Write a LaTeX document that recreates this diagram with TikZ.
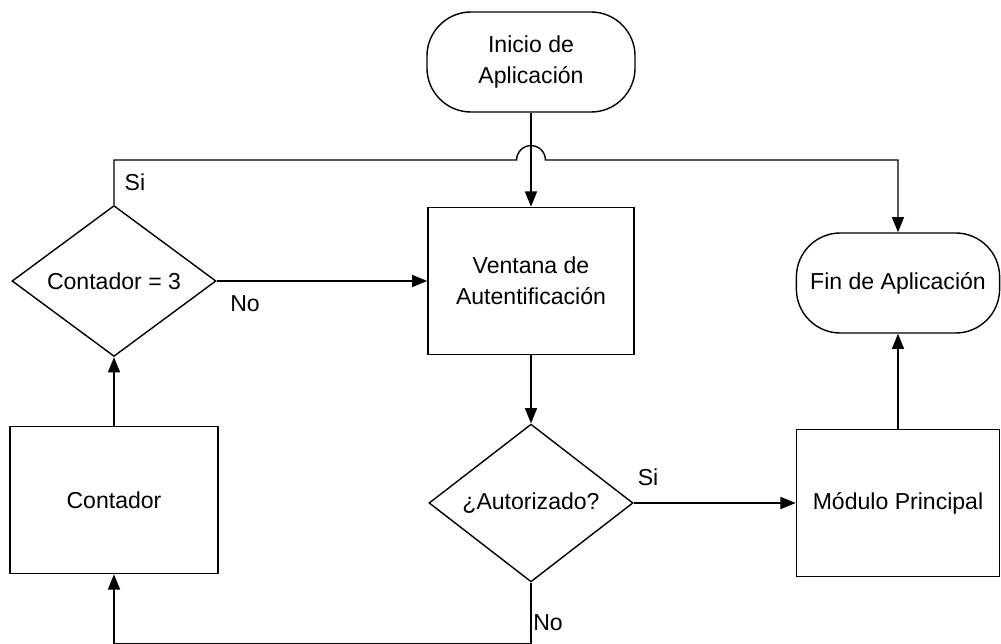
\documentclass[tikz,border=0pt]{standalone}
\usepackage{fontspec}
\setmainfont{Liberation Sans}
\usetikzlibrary{shapes.geometric,arrows.meta}

\begin{document}
\begin{tikzpicture}[>={Triangle[length=0.38cm,width=0.3cm]},x=0.025cm,y=-0.025cm,line width=1pt,
  font=\fontsize{16.4}{22}\selectfont,
  terminal/.style={draw,rounded corners=1.1cm,minimum width=5.2cm,minimum height=2.5cm,align=center,inner sep=0pt},
  caja/.style={draw,minimum width=5.15cm,minimum height=3.68cm,align=center,inner sep=0pt},
  decision/.style={draw,diamond,minimum width=5.1cm,minimum height=3.65cm,inner sep=0pt}]

\useasboundingbox (0,0) rectangle (1001,644);

\node[terminal] (inicio) at (531,62) {Inicio de\\Aplicación};
\node[caja] (ventana) at (531,281) {Ventana de\\Autentificación};
\node[decision] (cont3) at (114,281) {Contador = 3};
\node[terminal,minimum width=5.08cm] (fin) at (898,283) {Fin de Aplicación};

\node[caja,minimum width=5.2cm] (contador) at (114,500) {Contador};
\node[decision] (autor) at (531,503) {¿Autorizado?};
\node[caja,minimum width=5.08cm] (modulo) at (898,503) {Módulo Principal};

\node (si1) at (135,182) {Si};
\node (no1) at (245,304) {No};
\node (si2) at (648,477) {Si};
\node (no2) at (548,623) {No};

\draw[->] (inicio) -- (ventana);
\draw[->] (cont3) -- (ventana);
\draw[->] (ventana) -- (autor);
\draw[->] (autor) -- (modulo);
\draw[->] (modulo) -- (fin);
\draw[->] (contador) -- (cont3);

\coordinate (abajo) at (114,643.5);
\draw[->] (autor.south) -- (autor.south |- abajo) -- (abajo) -- (contador.south);

\coordinate (salto) at (531,160);
\draw[->] (cont3.north) |- ([xshift=-0.36cm]salto) arc[start angle=180,end angle=0,radius=0.36cm] -| (fin.north);

\end{tikzpicture}
\end{document}
